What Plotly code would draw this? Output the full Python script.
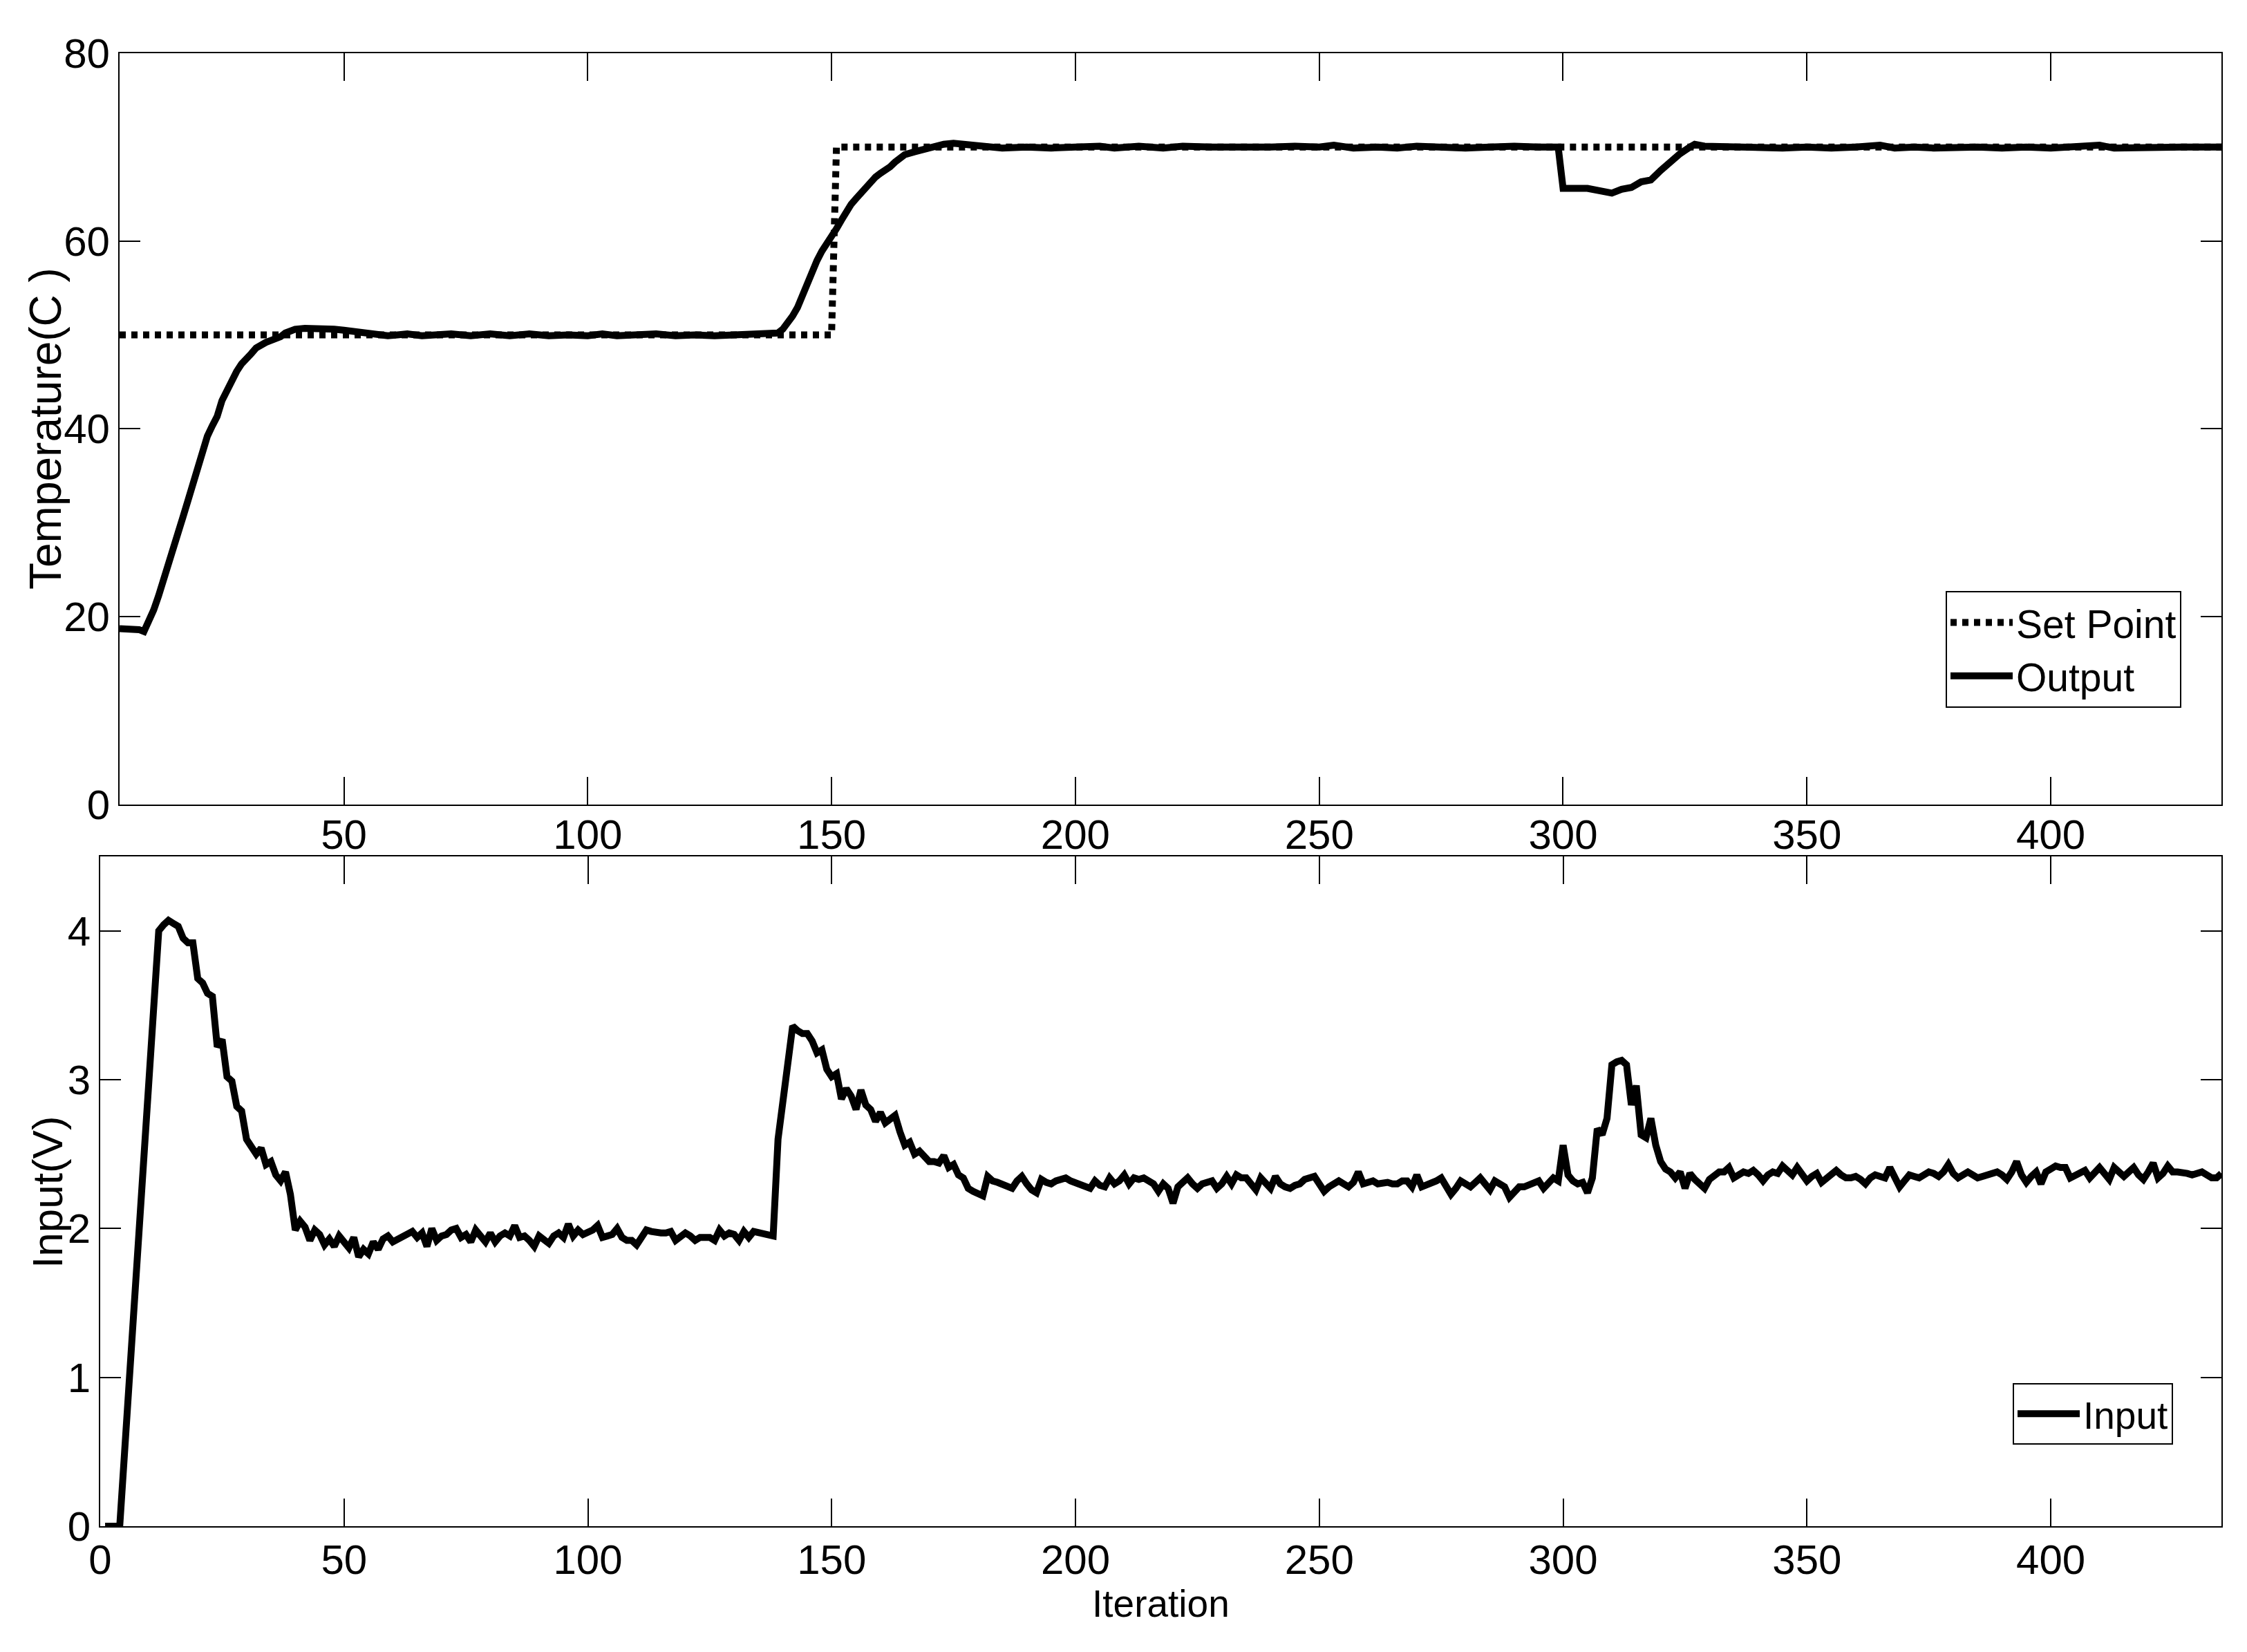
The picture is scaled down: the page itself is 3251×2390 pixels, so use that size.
import plotly.graph_objects as go

# ---------------- data ----------------
setpoint_x = [4, 150, 151, 435]
setpoint_y = [50, 50, 70, 70]

output_x = [4, 6, 8, 9, 10, 11, 12, 13, 14, 15, 16, 17, 18, 19, 20, 21, 22, 23, 24, 25,
            26, 27, 28, 29, 30, 31, 32, 33, 34, 35, 36, 37, 38, 39, 40, 42, 45, 48, 50, 52,
            55, 57, 59, 61, 63, 66, 69, 72, 76, 80, 84, 88, 92, 96, 100, 103, 106, 110, 114, 118,
            122, 126, 130, 134, 137, 139, 140, 141, 142, 143, 144, 145, 146, 147, 148, 149, 150, 151, 152, 153,
            154, 155, 156, 157, 158, 159, 160, 161, 162, 163, 164, 165, 167, 169, 171, 173, 175, 177, 180, 185,
            190, 195, 200, 205, 208, 213, 218, 222, 228, 235, 240, 245, 250, 253, 257, 262, 266, 270, 275, 280,
            285, 290, 295, 299, 300, 302, 305, 308, 310, 312, 314, 316, 318, 320, 322, 324, 326, 327, 329, 335,
            340, 345, 350, 355, 360, 365, 368, 372, 376, 380, 385, 390, 395, 400, 405, 410, 413, 418, 422, 427,
            431, 435]
output_y = [18.7, 18.7, 18.6, 18.4, 19.4, 20.7, 22.2, 24.0, 25.8, 27.6, 29.2, 30.6, 32.3, 34.2, 36.0, 37.8, 39.2, 40.3, 41.3, 43.0,
            44.0, 45.3, 46.1, 46.9, 47.6, 48.0, 48.6, 49.0, 49.2, 49.4, 49.6, 49.8, 50.2, 50.4, 50.6, 50.7, 50.7, 50.6, 50.5, 50.4,
            50.2, 50.1, 49.9, 50.0, 50.1, 49.9, 50.0, 50.1, 49.9, 50.1, 49.9, 50.1, 49.9, 50.0, 49.9, 50.1, 49.9, 50.0, 50.1, 49.9,
            50.0, 49.9, 50.0, 50.1, 50.0, 50.2, 50.6, 51.2, 52.0, 52.9, 54.2, 55.6, 56.8, 57.9, 58.9, 59.6, 60.4, 61.3, 62.2, 63.1,
            63.9, 64.5, 65.1, 65.6, 66.4, 66.8, 67.2, 67.5, 67.9, 68.4, 68.9, 69.2, 69.5, 69.8, 70.0, 70.3, 70.4, 70.3, 70.1, 69.9,
            70.0, 69.9, 70.0, 70.1, 69.9, 70.1, 69.9, 70.1, 70.0, 69.9, 70.0, 70.1, 70.0, 70.2, 69.9, 70.0, 69.9, 70.1, 70.0, 69.9,
            70.0, 70.1, 70.0, 70.0, 65.6, 65.6, 65.6, 65.3, 65.1, 65.5, 65.7, 66.3, 66.5, 67.5, 68.5, 69.3, 70.0, 70.3, 70.1, 70.0,
            70.0, 69.9, 70.0, 69.9, 70.0, 70.2, 69.9, 70.0, 69.9, 70.0, 70.0, 69.9, 70.0, 69.9, 70.0, 70.2, 69.9, 70.0, 69.9, 70.0,
            70.0, 70.0]

input_x = list(range(1, 436))
input_y = [
    0, 0, 0, 0, 0.5, 1.0, 1.45, 1.9, 2.45, 3.0,
    3.55, 4.0, 4.04, 4.07, 4.05, 4.03, 3.95, 3.92, 3.92, 3.68,
    3.65, 3.58, 3.56, 3.22, 3.27, 3.02, 2.99, 2.82, 2.79, 2.6,
    2.55, 2.5, 2.54, 2.43, 2.45, 2.36, 2.32, 2.38, 2.23, 1.99,
    2.05, 2.01, 1.92, 1.99, 1.96, 1.89, 1.93, 1.88, 1.95, 1.91,
    1.87, 1.94, 1.81, 1.86, 1.83, 1.91, 1.86, 1.93, 1.95, 1.91,
    1.93, 1.94, 1.96, 1.98, 1.94, 1.97, 1.88, 2.0, 1.92, 1.95,
    1.96, 1.99, 2.0, 1.94, 1.96, 1.91, 1.99, 1.94, 1.91, 1.97,
    1.91, 1.95, 1.97, 1.95, 2.02, 1.94, 1.95, 1.92, 1.88, 1.95,
    1.92, 1.9, 1.95, 1.97, 1.94, 2.03, 1.95, 1.99, 1.96, 1.97,
    1.99, 2.02, 1.94, 1.95, 1.96, 2.0, 1.94, 1.92, 1.92, 1.89,
    1.95, 1.99, 1.98, 1.97, 1.97, 1.97, 1.98, 1.92, 1.94, 1.97,
    1.95, 1.92, 1.94, 1.94, 1.94, 1.92, 1.99, 1.95, 1.97, 1.96,
    1.92, 1.98, 1.94, 1.98, 1.97, 1.97, 1.95, 1.95, 2.6, 2.85,
    3.18, 3.36, 3.33, 3.31, 3.31, 3.26, 3.18, 3.2, 3.07, 3.02,
    3.04, 2.87, 2.94, 2.89, 2.8, 2.93, 2.83, 2.8, 2.72, 2.78,
    2.71, 2.74, 2.76, 2.65, 2.56, 2.58, 2.5, 2.52, 2.49, 2.45,
    2.45, 2.44, 2.49, 2.41, 2.43, 2.36, 2.34, 2.27, 2.25, 2.24,
    2.22, 2.35, 2.32, 2.31, 2.3, 2.29, 2.27, 2.32, 2.35, 2.3,
    2.26, 2.24, 2.33, 2.31, 2.3, 2.32, 2.33, 2.34, 2.32, 2.31,
    2.3, 2.29, 2.27, 2.32, 2.29, 2.28, 2.34, 2.3, 2.32, 2.36,
    2.3, 2.34, 2.33, 2.34, 2.32, 2.3, 2.25, 2.3, 2.27, 2.17,
    2.28, 2.31, 2.34, 2.3, 2.27, 2.3, 2.31, 2.32, 2.27, 2.3,
    2.35, 2.3, 2.36, 2.34, 2.34, 2.3, 2.26, 2.34, 2.3, 2.27,
    2.35, 2.3, 2.28, 2.27, 2.29, 2.3, 2.33, 2.34, 2.35, 2.3,
    2.25, 2.28, 2.3, 2.32, 2.3, 2.28, 2.31, 2.38, 2.3, 2.31,
    2.32, 2.3, 2.31, 2.31, 2.3, 2.3, 2.32, 2.32, 2.28, 2.36,
    2.28, 2.29, 2.3, 2.32, 2.34, 2.29, 2.23, 2.27, 2.32, 2.3,
    2.28, 2.31, 2.34, 2.3, 2.26, 2.32, 2.3, 2.28, 2.21, 2.25,
    2.28, 2.28, 2.29, 2.3, 2.32, 2.27, 2.3, 2.34, 2.32, 2.56,
    2.36, 2.32, 2.3, 2.31, 2.24, 2.34, 2.67, 2.63, 2.74, 3.1,
    3.12, 3.13, 3.1, 2.83, 2.96, 2.63, 2.61, 2.74, 2.56, 2.45,
    2.4, 2.38, 2.34, 2.38, 2.27, 2.37, 2.33, 2.3, 2.27, 2.33,
    2.36, 2.38, 2.38, 2.41, 2.34, 2.36, 2.38, 2.37, 2.39, 2.36,
    2.32, 2.36, 2.38, 2.37, 2.42, 2.39, 2.36, 2.41, 2.37, 2.32,
    2.35, 2.37, 2.31, 2.34, 2.36, 2.39, 2.36, 2.34, 2.34, 2.35,
    2.33, 2.3, 2.34, 2.36, 2.35, 2.34, 2.41, 2.34, 2.28, 2.32,
    2.36, 2.35, 2.34, 2.36, 2.38, 2.37, 2.35, 2.38, 2.43, 2.37,
    2.34, 2.36, 2.38, 2.36, 2.34, 2.35, 2.36, 2.37, 2.38, 2.36,
    2.33, 2.38, 2.45, 2.36, 2.31, 2.35, 2.38, 2.3, 2.38, 2.4,
    2.42, 2.41, 2.41, 2.34, 2.36, 2.38, 2.39, 2.34, 2.37, 2.41,
    2.37, 2.33, 2.41, 2.38, 2.35, 2.38, 2.41, 2.36, 2.33, 2.38,
    2.44, 2.34, 2.37, 2.42, 2.38, 2.38, 2.38, 2.37, 2.36, 2.37,
    2.38, 2.36, 2.34, 2.34, 2.37,
]

top_xticks = [50, 100, 150, 200, 250, 300, 350, 400]
top_yticks = [0, 20, 40, 60, 80]
bot_xticks = [0, 50, 100, 150, 200, 250, 300, 350, 400]
bot_yticks = [0, 1, 2, 3, 4]

# ---------------- figure ----------------
FONT = "Liberation Sans, Arial, Helvetica, sans-serif"
W, H = 3251, 2390
ML, MR, MT, MB = 137, 45, 69, 190
PW, PH = W - ML - MR, H - MT - MB

def fx(px):
    return (px - ML) / PW

def fy(py):
    return (H - MB - py) / PH

fig = go.Figure()
fig.add_trace(go.Scatter(x=setpoint_x, y=setpoint_y, mode="lines", name="Set Point",
                         line=dict(color="black", width=10, dash="9px,8px"),
                         xaxis="x", yaxis="y", legend="legend"))
fig.add_trace(go.Scatter(x=output_x, y=output_y, mode="lines", name="Output",
                         line=dict(color="black", width=10),
                         xaxis="x", yaxis="y", legend="legend"))
fig.add_trace(go.Scatter(x=input_x, y=input_y, mode="lines", name="Input",
                         line=dict(color="black", width=10),
                         xaxis="x2", yaxis="y2", legend="legend2"))

axis_common = dict(showgrid=False, zeroline=False, showline=True, linecolor="black",
                   linewidth=2, ticks="inside", tickcolor="black", tickwidth=2,
                   mirror="ticks", tickfont=dict(family=FONT, size=60, color="black"))

fig.update_layout(
    width=W, height=H,
    margin=dict(l=ML, r=MR, t=MT, b=MB),
    paper_bgcolor="white", plot_bgcolor="white",
    xaxis=dict(domain=[fx(165), 1], range=[4, 435], anchor="y", tickvals=top_xticks,
               ticklen=40, ticklabelstandoff=-10, **axis_common),
    yaxis=dict(domain=[fy(1155.5), 1], range=[0, 80], anchor="x", tickvals=top_yticks,
               ticklen=30, **axis_common),
    xaxis2=dict(domain=[0, 1], range=[0, 435], anchor="y2", tickvals=bot_xticks,
                ticklen=40, ticklabelstandoff=-5, **axis_common),
    yaxis2=dict(domain=[0, fy(1231)], range=[0, 4.5], anchor="x2", tickvals=bot_yticks,
                ticklen=30, **axis_common),
    legend=dict(x=fx(3148), y=fy(847), xanchor="right", yanchor="top",
                bgcolor="white", bordercolor="black", borderwidth=2,
                font=dict(family=FONT, size=57, color="black"), itemwidth=90),
    legend2=dict(x=fx(3136), y=fy(1993), xanchor="right", yanchor="top",
                 bgcolor="white", bordercolor="black", borderwidth=2,
                 font=dict(family=FONT, size=55, color="black"), itemwidth=90),
    showlegend=True,
    annotations=[
        dict(text="Temperature(C )", textangle=-90, xref="paper", yref="paper",
             x=fx(58), y=fy(612), xanchor="center", yanchor="middle", showarrow=False,
             font=dict(family=FONT, size=64, color="black")),
        dict(text="Input(V)", textangle=-90, xref="paper", yref="paper",
             x=fx(60), y=fy(1717), xanchor="center", yanchor="middle", showarrow=False,
             font=dict(family=FONT, size=62, color="black")),
        dict(text="Iteration", xref="paper", yref="paper",
             x=fx(1671), y=fy(2312), xanchor="center", yanchor="middle", showarrow=False,
             font=dict(family=FONT, size=55, color="black")),
    ],
)

fig.write_html("out.html")
